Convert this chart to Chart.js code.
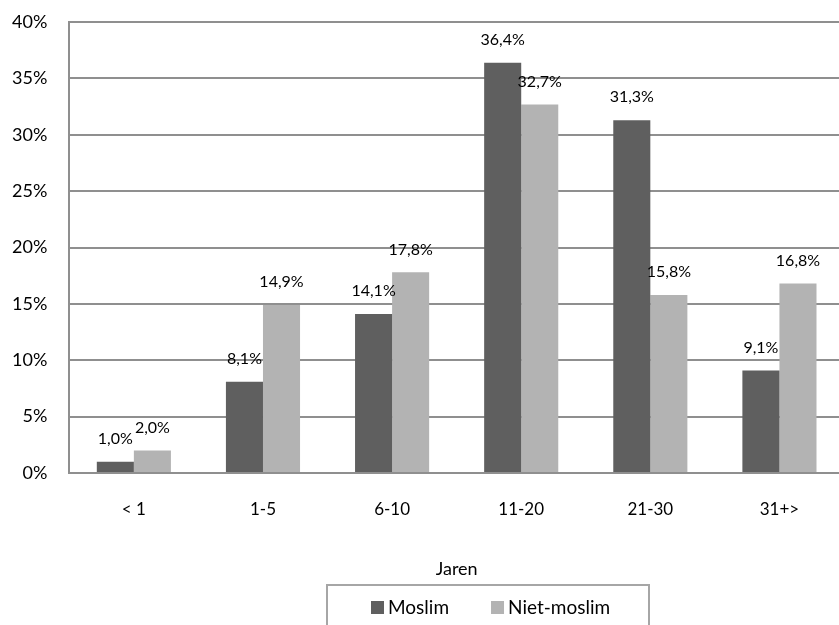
<!DOCTYPE html>
<html>
<head>
<meta charset="utf-8">
<script src="https://cdn.jsdelivr.net/npm/chart.js@4/dist/chart.umd.min.js"></script>
<style>
  html, body { margin: 0; padding: 0; background: #fff; overflow: hidden; }
  #wrap { width: 976px; height: 645px; }
</style>
</head>
<body>
<div id="wrap"><canvas id="c" width="976" height="645"></canvas></div>
<script>
const categories = ['< 1', '1-5', '6-10', '11-20', '21-30', '31+>'];
const moslim = [1.0, 8.1, 14.1, 36.4, 31.3, 9.1];
const nietMoslim = [2.0, 14.9, 17.8, 32.7, 15.8, 16.8];
const seriesNames = ['Moslim', 'Niet-moslim'];
const xTitle = 'Jaren';

const FONT = 'Lato, "Open Sans", sans-serif';
const GRID = '#8f8f8f';

const dataLabels = {
  id: 'dataLabels',
  afterDatasetsDraw(chart) {
    const ctx = chart.ctx;
    ctx.save();
    ctx.font = '16px ' + FONT;
    ctx.fillStyle = '#000';
    ctx.textAlign = 'center';
    ctx.textBaseline = 'bottom';
    chart.data.datasets.forEach((ds, i) => {
      chart.getDatasetMeta(i).data.forEach((bar, j) => {
        const txt = ds.data[j].toFixed(1).replace('.', ',') + '%';
        ctx.fillText(txt, bar.x, bar.y - 15);
      });
    });
    ctx.restore();
  }
};

// boxed legend below the axis title, built from the datasets
const boxedLegend = {
  id: 'boxedLegend',
  afterDraw(chart) {
    const ctx = chart.ctx;
    const box = { left: 327, top: 585, width: 322, height: 80 };
    const rowY = 607;
    ctx.save();
    ctx.strokeStyle = '#a6a6a6';
    ctx.lineWidth = 2;
    ctx.strokeRect(box.left, box.top, box.width, box.height);
    ctx.font = '19px ' + FONT;
    ctx.textBaseline = 'middle';
    ctx.textAlign = 'left';
    let x = 371;
    chart.data.datasets.forEach(ds => {
      ctx.fillStyle = ds.backgroundColor;
      ctx.fillRect(x, rowY - 6, 13, 13);
      ctx.fillStyle = '#000';
      ctx.fillText(ds.label, x + 17, rowY + 1);
      x += 17 + ctx.measureText(ds.label).width + 42;
    });
    ctx.restore();
  }
};

new Chart(document.getElementById('c'), {
  type: 'bar',
  data: {
    labels: categories,
    datasets: [
      { label: seriesNames[0], data: moslim, backgroundColor: '#5f5f5f' },
      { label: seriesNames[1], data: nietMoslim, backgroundColor: '#b3b3b3' }
    ]
  },
  options: {
    responsive: false,
    animation: false,
    devicePixelRatio: 1,
    layout: { padding: { top: 0, right: 132, left: -10, bottom: 65 } },
    datasets: { bar: { categoryPercentage: 0.574, barPercentage: 1.0 } },
    plugins: {
      tooltip: { enabled: false },
      legend: { display: false }
    },
    scales: {
      x: {
        grid: { display: false, drawTicks: false },
        border: { color: GRID, width: 2 },
        ticks: { font: { family: FONT, size: 17 }, color: '#000', padding: 26 },
        title: { display: true, text: xTitle, font: { family: FONT, size: 18 }, color: '#000', padding: { top: 13, bottom: 0 } }
      },
      y: {
        min: 0, max: 40,
        grid: { color: GRID, lineWidth: 2, drawTicks: false },
        border: { color: GRID, width: 2 },
        ticks: { stepSize: 5, font: { family: FONT, size: 18, lineHeight: 0.01 }, color: '#000', padding: 22,
          callback: v => v + '%' }
      }
    }
  },
  plugins: [dataLabels, boxedLegend]
});
</script>
</body>
</html>
